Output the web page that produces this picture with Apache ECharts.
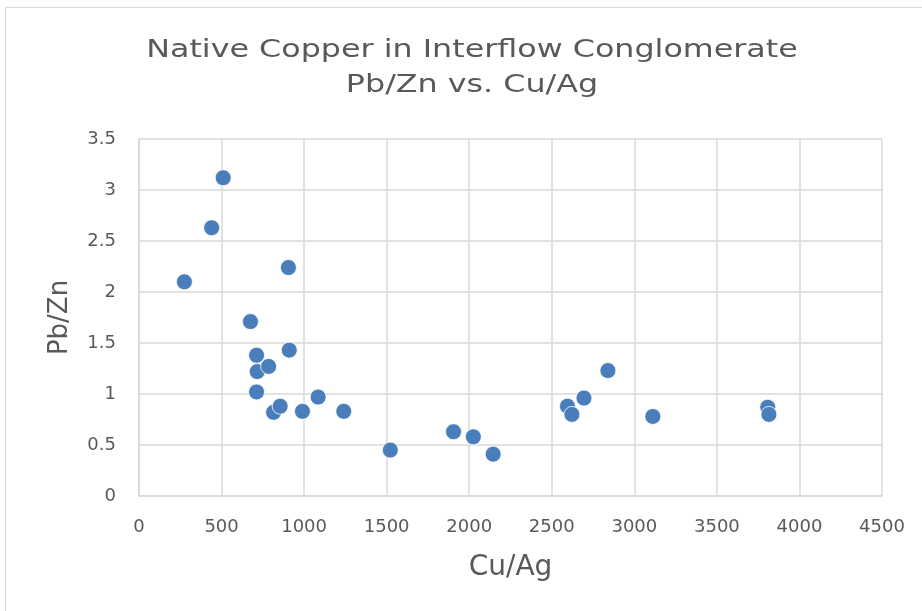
<!DOCTYPE html>
<head>
    <meta charset="UTF-8">
    <title>Native Copper in Interflow Conglomerate</title>
    <style>
        body { margin:0; background:#fff; }
        #frame { position:absolute; left:5px; top:7px; width:930px; height:620px; border:1px solid #d9d9d9; }
    </style>
</head>
<body>
<div id="frame"></div>
<div id="main" style="position:absolute;left:0;top:0;width:922px;height:611px"></div>
<script src="https://cdn.jsdelivr.net/npm/echarts@6/dist/echarts.min.js"></script>
<script type="text/javascript">
// Cu/Ag (x) and Pb/Zn (y)
var cuAg = [275, 440, 510, 675, 712, 716, 712, 785, 815, 855, 905, 910, 990, 1085, 1240, 1522, 1905, 2025, 2145, 2595, 2622, 2695, 2840, 3112, 3808, 3815];
var pbZn = [2.10, 2.63, 3.12, 1.71, 1.38, 1.22, 1.02, 1.27, 0.82, 0.88, 2.24, 1.43, 0.83, 0.97, 0.83, 0.45, 0.63, 0.58, 0.41, 0.88, 0.80, 0.96, 1.23, 0.78, 0.87, 0.80];

var titleLines = ['Native Copper in Interflow Conglomerate', 'Pb/Zn vs. Cu/Ag'];

var points = [];
for (var i = 0; i < cuAg.length; i++) {
    points.push([cuAg[i], pbZn[i]]);
}

var font = '"DejaVu Sans", Verdana, sans-serif';

var option = {
    backgroundColor: 'transparent',
    // title drawn as graphic text so it can be stretched wide like the original
    graphic: [
        {
            type: 'text',
            x: 472,
            y: 33,
            scaleX: 1.27,
            silent: true,
            style: {
                text: titleLines.join('\n'),
                font: '25px ' + font,
                fill: '#595959',
                textAlign: 'center',
                textVerticalAlign: 'top',
                lineHeight: 35
            }
        }
    ],
    grid: {
        left: 139,
        right: 40,
        top: 139,
        bottom: 115
    },
    xAxis : {
        type: 'value',
        min: 0,
        max: 4500,
        interval: 500,
        name: 'Cu/Ag',
        nameLocation: 'middle',
        nameGap: 58,
        nameTextStyle: { fontFamily: font, fontSize: 28, color: '#595959' },
        axisLine: { show: true, lineStyle: { color: '#d9d9d9', width: 1.5 } },
        axisTick: { show: false },
        axisLabel: {
            fontFamily: font, fontSize: 18, color: '#595959', margin: 22,
            formatter: function (v) { return String(v); }
        },
        splitLine: { show: true, lineStyle: { color: '#d9d9d9', width: 1.5 } }
    },
    yAxis : {
        type: 'value',
        min: 0,
        max: 3.5,
        interval: 0.5,
        name: 'Pb/Zn',
        nameLocation: 'middle',
        nameGap: 66,
        nameTextStyle: { fontFamily: font, fontSize: 26, color: '#595959' },
        axisLine: { show: true, lineStyle: { color: '#d9d9d9', width: 1.5 } },
        axisTick: { show: false },
        axisLabel: { fontFamily: font, fontSize: 18, color: '#595959', margin: 23 },
        splitLine: { show: true, lineStyle: { color: '#d9d9d9', width: 1.5 } }
    },
    series : [
        {
            name: 'Pb/Zn',
            type: 'scatter',
            symbolSize: 16,
            data: points,
            itemStyle: {
                color: '#4a7ebb',
                borderColor: '#ffffff',
                borderWidth: 0.8,
                opacity: 1
            }
        }
    ]
};

var myChart = echarts.init(document.getElementById('main'));
myChart.setOption(option);
</script>
</body>
